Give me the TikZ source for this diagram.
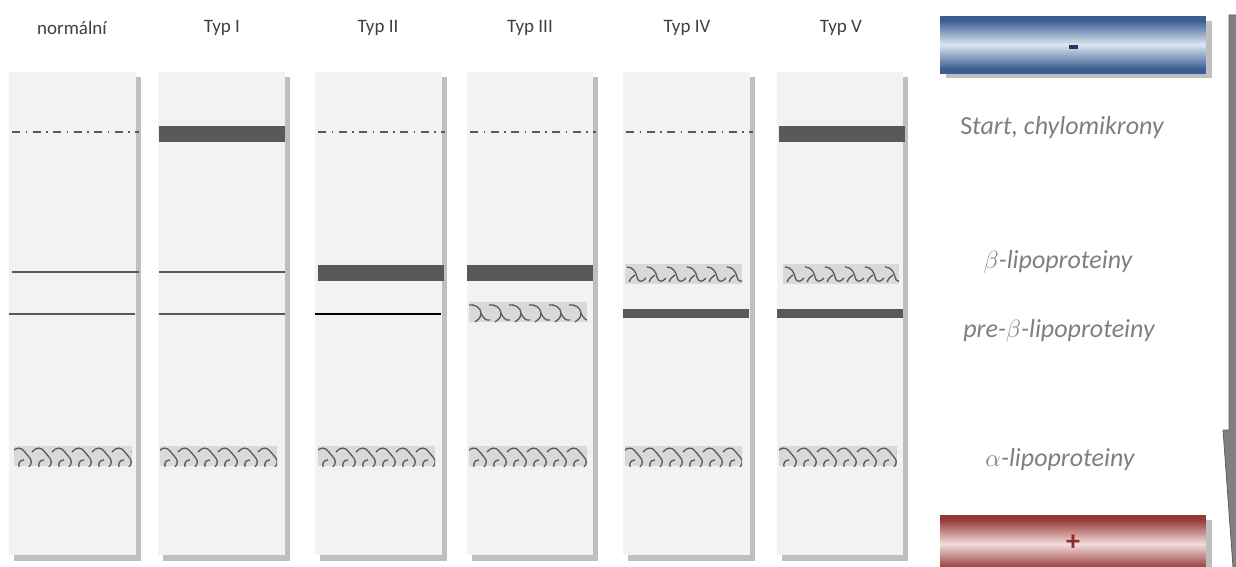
\documentclass[tikz,border=0pt]{standalone}
\usepackage{fontspec}
\setmainfont{Carlito}
\definecolor{panel}{HTML}{F2F2F2}
\definecolor{shadowgray}{HTML}{BFBFBF}
\definecolor{bandgray}{HTML}{595959}
\definecolor{wavefill}{HTML}{D9D9D9}
\definecolor{labelgray}{HTML}{7F7F7F}
\definecolor{titlegray}{HTML}{404040}
\definecolor{bluedark}{HTML}{3B5E91}
\definecolor{bluelight}{HTML}{DCE6F2}
\definecolor{bluetext}{HTML}{1F3864}
\definecolor{reddark}{HTML}{953735}
\definecolor{redlight}{HTML}{F2DCDB}
\definecolor{redtext}{HTML}{8B2B2B}
\definecolor{arrowgray}{HTML}{808080}
\definecolor{arrowedge}{HTML}{5F5F5F}
\tikzset{
  title/.style={font=\fontsize{19}{22}\selectfont, text=titlegray},
  lab/.style={font=\fontsize{26}{30}\selectfont\itshape, text=labelgray},
  dashdot/.style={draw=bandgray, line width=2pt, dash pattern=on 8pt off 5.5pt on 1.5pt off 5.5pt},
  thinband/.style={draw=bandgray, line width=1.6pt},
  wave/.style={draw=bandgray, line width=1.3pt},
}
\newcommand\lanebox[2]{%
  \fill[shadowgray] (#1+5,77) rectangle (#2+5,561);
  \fill[panel] (#1,72) rectangle (#2,555);}
\newcommand\thickband[4]{% x0 x1 ytop ybot
  \fill[bandgray] (#1,#3) rectangle (#2,#4);}
\newcommand\waveA[3]{% alpha pattern
  \begin{scope}
  \clip (#1,#3) rectangle (#2,#3+20);
  \fill[wavefill] (#1,#3) rectangle (#2,#3+20);
  \foreach \k in {0,...,6}{
    \draw[wave,shift={(#1+20*\k,#3)}] (-2,6) .. controls (2,1) and (7,1) .. (10,5) -- (15,11) .. controls (18,14) and (18,18) .. (15,21);
    \draw[wave,shift={(#1+20*\k,#3)}] (5,21) .. controls (4,17) and (6,14) .. (10,14);
  }
  \end{scope}}
\newcommand\waveB[3]{% beta pattern
  \begin{scope}
  \clip (#1,#3) rectangle (#2,#3+20);
  \fill[wavefill] (#1,#3) rectangle (#2,#3+20);
  \foreach \k in {0,...,6}{
    \draw[wave,shift={(#1+20*\k,#3)}] (2,3) .. controls (8,3) and (11,8) .. (12,13) .. controls (13,18) and (17,19) .. (21,14);
    \draw[wave,shift={(#1+20*\k,#3)}] (4,18) .. controls (6,14) .. (10,11);
  }
  \end{scope}}
\newcommand\waveC[3]{% pre-beta pattern
  \begin{scope}
  \clip (#1,#3) rectangle (#2,#3+20);
  \fill[wavefill] (#1,#3) rectangle (#2,#3+20);
  \foreach \k in {0,...,6}{
    \draw[wave,shift={(#1+20*\k,#3)}] (0,3) .. controls (6,2) and (12,6) .. (12,11) .. controls (12,16) and (9,18) .. (6,20);
    \draw[wave,shift={(#1+20*\k,#3)}] (12,11) .. controls (14,16) and (17,19) .. (21,18);
  }
  \end{scope}}
% gradient box drawn as stripes: #1 dark colour, #2 light colour, #3 ytop, #4 height
\newcommand\gradbox[4]{%
  \foreach \i in {0,...,#4}{
    \pgfmathsetmacro\tt{100*min(1,abs(\i-#4/2)/(#4/2*0.85))}
    \fill[#1!\tt!#2] (940,#3+\i) rectangle (1206,#3+\i+1.2);
  }}
\begin{document}
\begin{tikzpicture}[x=1pt,y=-1pt]
\useasboundingbox (0,0) rectangle (1236,567);
% lanes
\lanebox{9}{136}
\lanebox{158}{285}
\lanebox{315}{442}
\lanebox{467}{593}
\lanebox{623}{750}
\lanebox{777}{903}
% titles
\node[title] (t0) at (72,28) {normální};
\node[title] (t1) at (222,28) {Typ I};
\node[title] (t2) at (378,28) {Typ II};
\node[title] (t3) at (530,28) {Typ III};
\node[title] (t4) at (687,28) {Typ IV};
\node[title] (t5) at (841,28) {Typ V};
% normal
\draw[dashdot] (12,132) -- (139,132);
\draw[thinband] (12,272) -- (139,272);
\draw[thinband] (9,314) -- (135,314);
\waveA{14}{132}{446}
% Typ I
\thickband{159}{285}{126}{142}
\draw[thinband] (159,272) -- (285,272);
\draw[thinband] (159,314) -- (285,314);
\waveA{160}{277}{446}
% Typ II
\draw[dashdot] (318,132) -- (445,132);
\thickband{318}{444}{265}{281}
\draw[black, line width=2pt] (315,314) -- (441,314);
\waveA{318}{435}{446}
% Typ III
\draw[dashdot] (470,132) -- (596,132);
\thickband{467}{593}{265}{281}
\waveC{469}{587}{302}
\waveA{469}{587}{446}
% Typ IV
\draw[dashdot] (626,132) -- (753,132);
\waveB{625}{742}{264}
\thickband{623}{749}{309}{318}
\waveA{625}{742}{446}
% Typ V
\thickband{779}{905}{126}{142}
\waveB{783}{899}{264}
\thickband{777}{903}{309}{318}
\waveA{779}{897}{446}
% minus box
\fill[shadowgray] (946,21) rectangle (1212,78);
\gradbox{bluedark}{bluelight}{16}{57}
\fill[bluetext] (1069,45) rectangle (1078,49);
\node[inner sep=0pt, minimum size=0pt] (minus) at (1073,47) {};
% plus box
\fill[shadowgray] (946,520) rectangle (1212,580);
\gradbox{reddark}{redlight}{515}{58}
\node[font=\fontsize{28}{30}\selectfont\bfseries, text=redtext] (plus) at (1073,543) {+};
% labels
\node[lab] (start) at (1062,128) {{\upshape S}tart, chylomikrony};
\node[lab] (beta) at (1058,262) {$\beta$-lipoproteiny};
\node[lab] (prebeta) at (1059,331) {pre-$\beta$-lipoproteiny};
\node[lab] (alpha) at (1060,460) {$\alpha$-lipoproteiny};
% arrow
\fill[arrowgray, draw=arrowedge, line width=0.8pt] (1229,15) -- (1245,15) -- (1245,430) -- (1251,430) -- (1237,622) -- (1223,430) -- (1229,430) -- cycle;
\end{tikzpicture}
\end{document}
